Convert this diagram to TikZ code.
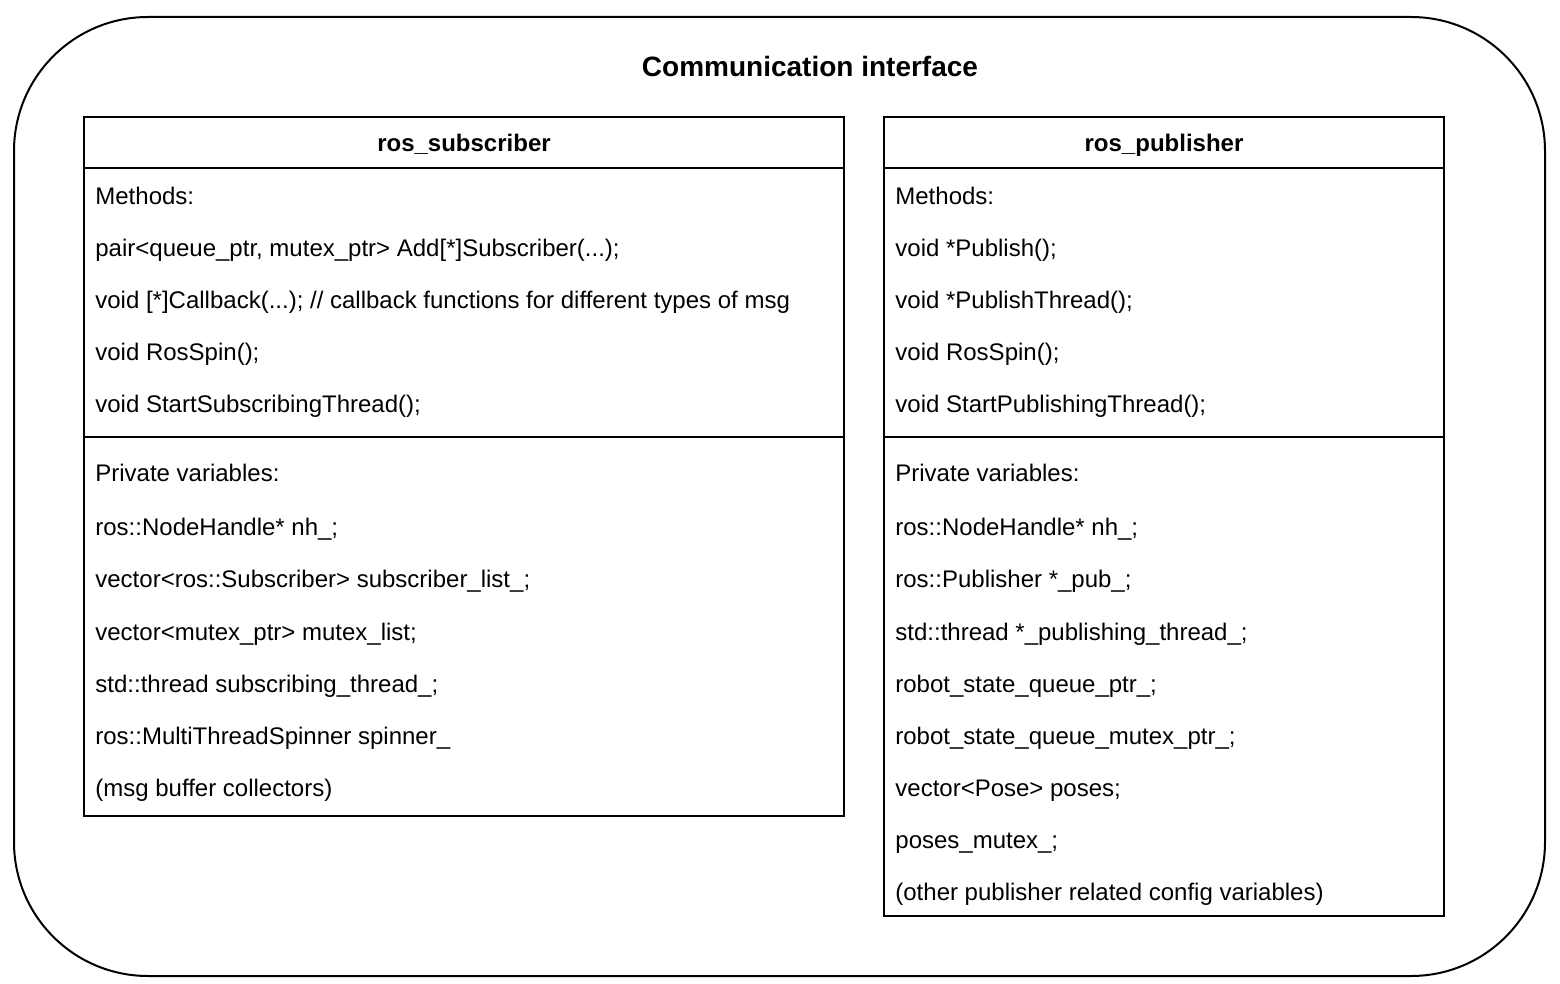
\documentclass[tikz,border=0pt]{standalone}
\usepackage{fontspec}
\setmainfont{Liberation Sans}

\begin{document}
\begin{tikzpicture}[x=0.5pt,y=-0.5pt,
    member/.style={anchor=base west,inner sep=0pt,font=\fontsize{12}{14}\selectfont},
    header/.style={anchor=base,inner sep=0pt,font=\fontsize{12}{14}\selectfont\bfseries},
    frame/.style={draw,line width=1pt}]
	\useasboundingbox (0,0) rectangle (1560,984);
	% outer container
	\draw[frame,rounded corners=67pt] (14,17) rectangle (1545,976);
	\node[anchor=base,inner sep=0pt,font=\fontsize{14}{16}\selectfont\bfseries] (title) at (810,77) {Communication interface};
	% ros_subscriber
	\draw[frame] (84,117) rectangle (844,816);
	\draw[frame] (84,168) -- (844,168);
	\draw[frame] (84,437) -- (844,437);
	\node[header] (subname) at (464,152) {ros\_subscriber};
	\node[member] (subm0) at (95,205) {Methods:};
	\node[member] (subm1) at (95,257) {pair<queue\_ptr, mutex\_ptr> Add[*]Subscriber(...);};
	\node[member] (subm2) at (95,309) {void [*]Callback(...); // callback functions for different types of msg};
	\node[member] (subm3) at (95,361) {void RosSpin();};
	\node[member] (subm4) at (95,413) {void StartSubscribingThread();};
	\node[member] (subv0) at (95,481) {Private variables:};
	\node[member] (subv1) at (95,536) {ros::NodeHandle* nh\_;};
	\node[member] (subv2) at (95,588) {vector<ros::Subscriber> subscriber\_list\_;};
	\node[member] (subv3) at (95,640) {vector<mutex\_ptr> mutex\_list;};
	\node[member] (subv4) at (95,692) {std::thread subscribing\_thread\_;};
	\node[member] (subv5) at (95,744) {ros::MultiThreadSpinner spinner\_};
	\node[member] (subv6) at (95,796) {(msg buffer collectors)};
	% ros_publisher
	\draw[frame] (884,117) rectangle (1444,916);
	\draw[frame] (884,168) -- (1444,168);
	\draw[frame] (884,437) -- (1444,437);
	\node[header] (pubname) at (1164,152) {ros\_publisher};
	\node[member] (pubm0) at (895,205) {Methods:};
	\node[member] (pubm1) at (895,257) {void *Publish();};
	\node[member] (pubm2) at (895,309) {void *PublishThread();};
	\node[member] (pubm3) at (895,361) {void RosSpin();};
	\node[member] (pubm4) at (895,413) {void StartPublishingThread();};
	\node[member] (pubv0) at (895,481) {Private variables:};
	\node[member] (pubv1) at (895,536) {ros::NodeHandle* nh\_;};
	\node[member] (pubv2) at (895,588) {ros::Publisher *\_pub\_;};
	\node[member] (pubv3) at (895,640) {std::thread *\_publishing\_thread\_;};
	\node[member] (pubv4) at (895,692) {robot\_state\_queue\_ptr\_;};
	\node[member] (pubv5) at (895,744) {robot\_state\_queue\_mutex\_ptr\_;};
	\node[member] (pubv6) at (895,796) {vector<Pose> poses;};
	\node[member] (pubv7) at (895,848) {poses\_mutex\_;};
	\node[member] (pubv8) at (895,900) {(other publisher related config variables)};
\end{tikzpicture}
\end{document}
